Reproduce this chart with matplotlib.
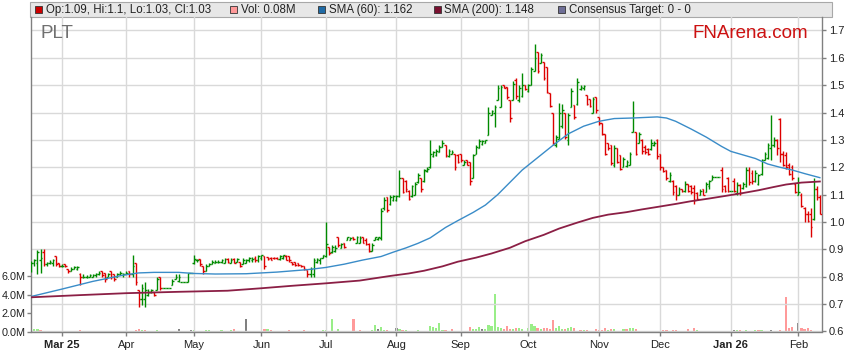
import numpy as np
import pandas as pd
import matplotlib
matplotlib.use("Agg")
import matplotlib.pyplot as plt
from matplotlib.collections import LineCollection
from matplotlib.patches import Rectangle

plt.rcParams['font.family'] = ['Liberation Sans', 'DejaVu Sans']

# daily OHLC, first bar Mon 17 Feb 2025, one per weekday
opens = [
    .83, .85, .85, .86, .89, .845, .85, .85, .875, .85,
    .84, .845, .83, .82, .83, .83, .81, .80, .80, .80,
    .80, .805, .81, .82, .815, .80, .82, .81, .80, .81,
    .805, .81, .82, .81, .85, .75, .72, .72, .735, .745,
    .745, .75, .80, .76, .76, .76, .77, .79, .785, .78,
    .78, .78, .815, .85, .86, .865, .84, .82, .84, .845,
    .85, .855, .855, .852, .865, .852, .865, .855, .855, .845,
    .85, .86, .86, .87, .86, .87, .876, .873, .87, .87,
    .87, .865, .87, .875, .876, .855, .855, .85, .843, .84,
    .825, .81, .81, .855, .86, .87, .875, .91, .89, .895,
    .945, .905, .925, .935, .935, .947, .925, .925, .945, .935,
    .92, .895, .935, .938, .94, 1.05, 1.09, 1.065, 1.08, 1.08,
    1.095, 1.16, 1.15, 1.115, 1.095, 1.10, 1.145, 1.16, 1.15, 1.185,
    1.20, 1.24, 1.245, 1.256, 1.275, 1.28, 1.24, 1.25, 1.25, 1.245,
    1.25, 1.21, 1.225, 1.22, 1.16, 1.25, 1.27, 1.285, 1.29, 1.317,
    1.39, 1.40, 1.445, 1.42, 1.50, 1.494, 1.445, 1.445, 1.52, 1.445,
    1.46, 1.50, 1.48, 1.50, 1.55, 1.62, 1.58, 1.585, 1.567, 1.47,
    1.40, 1.28, 1.305, 1.35, 1.40, 1.30, 1.42, 1.427, 1.43, 1.485,
    1.49, 1.463, 1.45, 1.40, 1.457, 1.385, 1.36, 1.323, 1.287, 1.28,
    1.21, 1.27, 1.244, 1.20, 1.205, 1.21, 1.33, 1.33, 1.29, 1.30,
    1.275, 1.265, 1.265, 1.28, 1.30, 1.247, 1.20, 1.19, 1.15, 1.15,
    1.13, 1.10, 1.12, 1.115, 1.14, 1.13, 1.125, 1.105, 1.10, 1.12,
    1.11, 1.13, 1.155, 1.165, 1.165, 1.19, 1.13, 1.16, 1.115, 1.15,
    1.105, 1.135, 1.125, 1.13, 1.19, 1.18, 1.15, 1.14, 1.175, 1.228,
    1.235, 1.27, 1.28, 1.30, 1.375, 1.25, 1.245, 1.21, 1.20, 1.14,
    1.10, 1.10, 1.05, 1.03, 1.03, 1.01, 1.12, 1.09,
]
highs = [
    .857, .865, .898, .90, .90, .855, .86, .865, .875, .85,
    .845, .845, .83, .835, .84, .84, .813, .81, .805, .81,
    .81, .815, .82, .82, .815, .815, .82, .81, .815, .82,
    .815, .82, .82, .88, .85, .752, .775, .78, .755, .755,
    .745, .80, .80, .76, .76, .76, .79, .81, .81, .78,
    .78, .815, .815, .88, .865, .865, .84, .845, .85, .86,
    .86, .86, .865, .868, .868, .868, .868, .867, .855, .867,
    .865, .873, .872, .875, .88, .88, .876, .873, .872, .872,
    .872, .88, .88, .878, .876, .855, .855, .852, .843, .84,
    .825, .837, .867, .867, .87, .88, 1.0, .91, .916, .915,
    .947, .922, .925, .947, .947, .947, .95, .948, .947, .94,
    .922, .922, .947, .947, 1.05, 1.093, 1.093, 1.10, 1.10, 1.10,
    1.19, 1.16, 1.155, 1.117, 1.136, 1.148, 1.178, 1.16, 1.195, 1.20,
    1.30, 1.26, 1.265, 1.28, 1.30, 1.28, 1.265, 1.262, 1.25, 1.247,
    1.25, 1.226, 1.226, 1.22, 1.25, 1.28, 1.305, 1.30, 1.30, 1.42,
    1.41, 1.427, 1.50, 1.50, 1.50, 1.494, 1.445, 1.515, 1.525, 1.50,
    1.543, 1.50, 1.506, 1.567, 1.649, 1.622, 1.616, 1.585, 1.567, 1.47,
    1.40, 1.317, 1.433, 1.43, 1.40, 1.40, 1.488, 1.427, 1.525, 1.50,
    1.50, 1.463, 1.45, 1.457, 1.457, 1.385, 1.36, 1.323, 1.287, 1.28,
    1.28, 1.27, 1.244, 1.238, 1.226, 1.256, 1.441, 1.33, 1.33, 1.305,
    1.28, 1.27, 1.305, 1.297, 1.305, 1.247, 1.20, 1.19, 1.183, 1.153,
    1.134, 1.128, 1.122, 1.15, 1.14, 1.134, 1.134, 1.11, 1.122, 1.122,
    1.147, 1.153, 1.173, 1.165, 1.165, 1.20, 1.134, 1.165, 1.115, 1.16,
    1.147, 1.14, 1.147, 1.20, 1.20, 1.19, 1.19, 1.177, 1.232, 1.256,
    1.287, 1.39, 1.311, 1.305, 1.379, 1.26, 1.256, 1.215, 1.21, 1.142,
    1.166, 1.105, 1.056, 1.04, 1.05, 1.16, 1.13, 1.10,
]
lows = [
    .818, .84, .81, .815, .84, .84, .845, .84, .84, .835,
    .835, .835, .815, .82, .83, .825, .771, .795, .795, .80,
    .80, .80, .805, .80, .78, .80, .79, .785, .80, .805,
    .80, .81, .80, .80, .77, .69, .695, .69, .73, .74,
    .73, .75, .75, .76, .76, .76, .77, .79, .78, .78,
    .78, .78, .815, .845, .855, .84, .81, .82, .84, .845,
    .85, .85, .85, .85, .85, .85, .85, .855, .837, .845,
    .85, .855, .855, .855, .855, .86, .827, .86, .86, .865,
    .865, .86, .865, .86, .855, .843, .84, .84, .837, .825,
    .80, .80, .80, .85, .845, .868, .873, .88, .885, .89,
    .91, .904, .905, .935, .935, .935, .922, .922, .922, .916,
    .892, .895, .935, .935, .935, 1.044, 1.038, 1.062, 1.075, 1.075,
    1.093, 1.105, 1.11, 1.08, 1.093, 1.10, 1.142, 1.11, 1.147, 1.183,
    1.196, 1.238, 1.24, 1.256, 1.275, 1.238, 1.238, 1.25, 1.19, 1.214,
    1.22, 1.208, 1.208, 1.135, 1.16, 1.25, 1.27, 1.28, 1.287, 1.317,
    1.39, 1.348, 1.445, 1.42, 1.488, 1.45, 1.366, 1.445, 1.45, 1.44,
    1.457, 1.482, 1.476, 1.50, 1.55, 1.543, 1.58, 1.518, 1.47, 1.42,
    1.28, 1.275, 1.305, 1.345, 1.305, 1.28, 1.42, 1.378, 1.427, 1.482,
    1.482, 1.427, 1.42, 1.40, 1.40, 1.354, 1.317, 1.244, 1.263, 1.208,
    1.20, 1.214, 1.19, 1.20, 1.20, 1.207, 1.33, 1.244, 1.287, 1.25,
    1.25, 1.245, 1.262, 1.278, 1.232, 1.19, 1.183, 1.153, 1.147, 1.098,
    1.08, 1.098, 1.11, 1.11, 1.11, 1.104, 1.067, 1.08, 1.098, 1.098,
    1.11, 1.122, 1.153, 1.165, 1.165, 1.11, 1.11, 1.11, 1.115, 1.11,
    1.098, 1.098, 1.122, 1.128, 1.134, 1.14, 1.147, 1.134, 1.171, 1.226,
    1.232, 1.226, 1.275, 1.244, 1.22, 1.205, 1.193, 1.17, 1.154, 1.105,
    1.099, 1.056, 1.0, 1.0, .946, 1.007, 1.08, 1.03,
]
closes = [
    .85, .86, .89, .87, .845, .85, .855, .86, .845, .84,
    .84, .84, .82, .83, .835, .835, .80, .80, .80, .805,
    .805, .81, .815, .805, .79, .81, .80, .79, .81, .815,
    .81, .815, .81, .84, .78, .72, .76, .75, .745, .75,
    .735, .79, .76, .76, .76, .76, .785, .80, .80, .78,
    .78, .815, .815, .865, .86, .845, .82, .84, .845, .855,
    .855, .855, .86, .865, .855, .862, .852, .865, .84, .86,
    .86, .87, .865, .86, .875, .878, .84, .865, .862, .868,
    .866, .875, .878, .862, .86, .845, .843, .842, .838, .828,
    .81, .83, .86, .865, .868, .878, .92, .885, .91, .905,
    .915, .92, .91, .945, .94, .937, .945, .94, .925, .92,
    .895, .915, .945, .945, 1.04, 1.08, 1.045, 1.09, 1.095, 1.095,
    1.16, 1.11, 1.12, 1.085, 1.13, 1.14, 1.17, 1.12, 1.19, 1.195,
    1.25, 1.255, 1.26, 1.275, 1.29, 1.245, 1.26, 1.255, 1.20, 1.22,
    1.225, 1.22, 1.21, 1.15, 1.245, 1.275, 1.295, 1.295, 1.298, 1.40,
    1.405, 1.42, 1.49, 1.495, 1.49, 1.455, 1.38, 1.505, 1.46, 1.49,
    1.50, 1.485, 1.50, 1.56, 1.60, 1.55, 1.61, 1.525, 1.475, 1.425,
    1.29, 1.31, 1.40, 1.41, 1.31, 1.39, 1.48, 1.385, 1.51, 1.495,
    1.498, 1.43, 1.425, 1.45, 1.41, 1.36, 1.32, 1.25, 1.27, 1.215,
    1.27, 1.22, 1.195, 1.23, 1.22, 1.25, 1.40, 1.25, 1.32, 1.26,
    1.255, 1.25, 1.29, 1.29, 1.24, 1.20, 1.185, 1.16, 1.17, 1.11,
    1.10, 1.12, 1.112, 1.14, 1.115, 1.11, 1.08, 1.085, 1.115, 1.10,
    1.14, 1.15, 1.165, 1.165, 1.165, 1.12, 1.115, 1.115, 1.115, 1.115,
    1.135, 1.105, 1.14, 1.19, 1.145, 1.15, 1.18, 1.17, 1.225, 1.25,
    1.28, 1.28, 1.30, 1.27, 1.25, 1.21, 1.20, 1.175, 1.16, 1.11,
    1.11, 1.06, 1.03, 1.005, .98, 1.12, 1.09, 1.03,
]
# volume in millions
volumes = [
    .20, .22, .24, .20, .05, .04, .03, .02, .03, .04,
    .10, .05, .04, .03, .02, .03, .13, .02, .03, .02,
    .03, .02, .03, .04, .03, .02, .08, .03, .02, .03,
    .02, .04, .03, .08, .12, .30, .15, .12, .08, .05,
    .08, .12, .05, .02, 0, 0, .05, .06, .30, 0,
    .02, .10, .12, .15, .05, .08, .05, .20, .18, .10,
    .05, .06, .15, .05, .08, .20, .25, .10, .05, .08,
    1.35, .08, .05, .06, .04, .05, .27, .25, .15, .05,
    .04, .08, .10, .06, .12, .05, .04, .03, .05, .18,
    .10, .05, .08, .06, .05, .12, .20, .10, 1.36, .10,
    .25, .10, .08, .06, .08, 1.35, .10, .15, .05, .06,
    .10, .15, .71, .27, .45, .20, .15, .10, .08, .38,
    .22, .18, .20, .05, .10, .08, .15, .05, .08, .10,
    .60, .45, .40, .94, .20, .12, .05, .28, .05, .08,
    .04, .10, .06, .45, .22, .30, .45, .22, .22, .68,
    .65, 4.09, .45, .38, .27, .55, .27, .22, .38, .35,
    .27, .08, .38, .80, .65, .40, .27, .35, .40, .30,
    1.26, .40, .65, .27, .27, .35, .45, .35, .10, .15,
    .12, .12, .08, .05, .30, .15, .15, .35, .15, .27,
    .25, .08, .05, .27, .25, .35, .38, .27, .06, .08,
    .08, .06, .08, .06, .07, .06, .15, .15, .10, .15,
    .12, .05, .06, .08, .27, .10, .38, .15, .05, .04,
    .03, .05, .03, 0, 0, .08, .05, .03, 0, .18,
    .15, .15, .05, .15, .06, .04, .15, .18, .15, .05,
    .08, .20, .08, .05, .12, .05, 3.73, .41, .48, .08,
    .92, .35, .27, .38, .15, .10, .08, .08,
]

# moving averages read at sample days (day index from first bar)
sma60_day = [0, 10, 20, 30, 35, 40, 48, 53, 60, 70, 80, 90, 96, 102, 108, 114, 118,
             122, 126, 130, 135, 139, 144, 148, 152, 156, 160, 165, 170, 175, 180,
             185, 190, 196, 200, 204, 207, 210, 215, 220, 225, 228, 232, 236, 240,
             244, 248, 252, 257]
sma60_val = [0.728, 0.755, 0.783, 0.806, 0.814, 0.816, 0.816, 0.812, 0.810, 0.811,
             0.817, 0.826, 0.834, 0.846, 0.861, 0.874, 0.89, 0.905, 0.922, 0.942,
             0.98, 1.005, 1.035, 1.062, 1.10, 1.145, 1.19, 1.235, 1.28, 1.322, 1.35,
             1.368, 1.378, 1.38, 1.382, 1.384, 1.38, 1.368, 1.34, 1.31, 1.276, 1.258,
             1.245, 1.232, 1.212, 1.20, 1.19, 1.177, 1.162]
sma200_day = [0, 16, 31, 48, 64, 75, 85, 96, 107, 117, 123, 128, 134, 139, 145, 150,
              156, 161, 167, 172, 178, 183, 188, 194, 199, 204, 210, 215, 221, 226,
              232, 237, 242, 246, 251, 257]
sma200_val = [0.725, 0.733, 0.740, 0.745, 0.749, 0.758, 0.767, 0.776, 0.786, 0.803,
              0.812, 0.822, 0.838, 0.855, 0.870, 0.885, 0.906, 0.930, 0.953, 0.976,
              0.998, 1.015, 1.027, 1.036, 1.046, 1.055, 1.066, 1.076, 1.086, 1.095,
              1.106, 1.116, 1.128, 1.137, 1.144, 1.148]

month_labels = ['Mar 25', 'Apr', 'May', 'Jun', 'Jul', 'Aug', 'Sep', 'Oct', 'Nov',
                'Dec', 'Jan 26', 'Feb']
price_ticks = [0.6, 0.7, 0.8, 0.9, 1.0, 1.1, 1.2, 1.3, 1.4, 1.5, 1.6, 1.7]
vol_ticks = [0, 2, 4, 6]

legend_items = [('Op:1.09, Hi:1.1, Lo:1.03, Cl:1.03', '#cc0000'),
                ('Vol: 0.08M', '#ff9999'),
                ('SMA (60): 1.162', '#1f6aa5'),
                ('SMA (200): 1.148', '#7a1030'),
                ('Consensus Target: 0 - 0', '#6e6e96')]

W, H = 859, 363
dates = pd.bdate_range('2025-02-17', periods=len(closes))
x = np.arange(len(closes))
month_pos = [i for i in range(1, len(dates)) if dates[i].month != dates[i - 1].month]

fig = plt.figure(figsize=(W / 100, H / 100), dpi=100)
rect = [31 / W, 1 - 331.5 / H, (822 - 31) / W, (331.5 - 17) / H]
axp = fig.add_axes(rect)
axv = axp.twinx()
axp.set_zorder(2)
axv.set_zorder(1)
axp.patch.set_visible(False)

grid_c = '#d9d9d9'
axp.set_xlim(-0.1, 257.7)
axp.set_ylim(0.6, 1.749)
axv.set_ylim(0, 34.3)

for p in price_ticks:
    axp.axhline(p, color=grid_c, lw=1, zorder=0)
for m in month_pos:
    axp.axvline(m, color=grid_c, lw=1, zorder=0)

# volume bars
vcol = []
for i, v in enumerate(volumes):
    if i == 0 or closes[i] > closes[i - 1]:
        vcol.append('#99ee88')
    elif closes[i] < closes[i - 1]:
        vcol.append('#ff9a9a')
    else:
        vcol.append('#808080')
axv.bar(x, volumes, width=0.7, color=vcol, linewidth=0)

# OHLC bars
segs, cols = [], []
for i in x:
    c = '#008a00' if closes[i] >= opens[i] else '#dd0000'
    segs.append([(i, lows[i]), (i, highs[i])])
    segs.append([(i - 0.55, opens[i]), (i, opens[i])])
    segs.append([(i, closes[i]), (i + 0.55, closes[i])])
    cols += [c, c, c]
axp.add_collection(LineCollection(segs, colors=cols, linewidths=1.0, zorder=3))

axp.plot(sma60_day, sma60_val, color='#3a8cc8', lw=1.0, zorder=4)
axp.plot(sma200_day, sma200_val, color='#8b1f45', lw=1.3, zorder=4)

# axes styling
axp.yaxis.tick_right()
axp.set_yticks(price_ticks)
axp.set_yticklabels(['%.1f' % p for p in price_ticks])
axp.set_xticks(month_pos)
axp.set_xticklabels(month_labels)
for lab in axp.get_xticklabels():
    if ' ' in lab.get_text():
        lab.set_fontweight('bold')
axp.tick_params(axis='both', labelsize=8, color='#808080', length=3, width=1,
                labelcolor='#222222', pad=2)
axp.tick_params(axis='x', pad=3)
axv.yaxis.tick_left()
axv.set_yticks(vol_ticks)
axv.set_yticklabels(['%.1fM' % v for v in vol_ticks])
axv.tick_params(axis='y', labelsize=7.8, color='#808080', length=3, width=1,
                labelcolor='#222222', pad=1)
for sp in axv.spines.values():
    sp.set_visible(False)
for name, sp in axp.spines.items():
    sp.set_color('#808080')
    sp.set_linewidth(1)
axp.spines['top'].set_visible(False)

# legend strip
fig.patches.append(Rectangle((30 / W, 1 - 16.7 / H), (832 - 30) / W, 14.3 / H,
                             transform=fig.transFigure, facecolor='#e7e7e7',
                             edgecolor='#a8a8a8', lw=0.8, zorder=0))
leg_x = [35, 230, 318, 433.5, 558]
for (txt, col), lx in zip(legend_items, leg_x):
    fig.patches.append(Rectangle((lx / W, 1 - 13 / H), 7 / W, 7 / H,
                                 transform=fig.transFigure, facecolor=col,
                                 edgecolor='#333333', lw=0.6))
    fig.text((lx + 11) / W, 1 - 9.6 / H, txt, fontsize=8.3, color='#222222',
             va='center', ha='left')

fig.text(41 / W, 1 - 33.5 / H, 'PLT', fontsize=13.5, color='#707070', va='center')
fig.text(808 / W, 1 - 33.5 / H, 'FNArena.com', fontsize=13.5, color='#cc1111',
         va='center', ha='right')

fig.savefig('out.png', dpi=100)
